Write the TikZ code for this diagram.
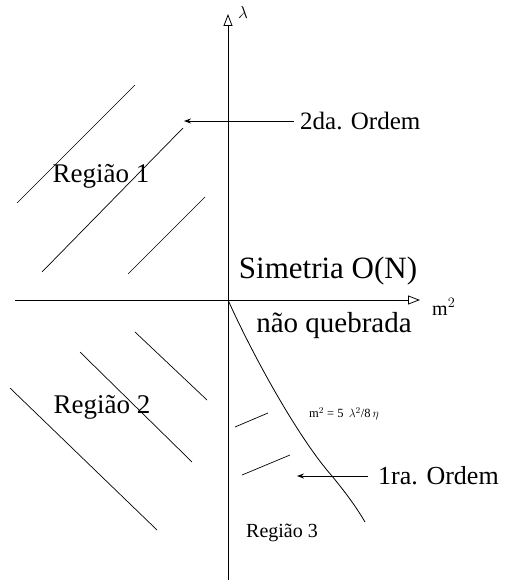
\documentclass[tikz,border=0pt]{standalone}
\usepackage{fontspec}
\setmainfont{Liberation Serif}
\usetikzlibrary{arrows.meta}
\tikzset{
    axis/.style={line width=0.8pt, -{Triangle[open, length=12pt, width=9pt]}},
    hatch/.style={line width=0.7pt},
    pointer/.style={line width=0.8pt, -{Stealth[length=7pt, width=5pt]}},
    label/.style={font=\fontsize{25}{29}\selectfont, inner sep=0pt},
    regionlabel/.style={font=\fontsize{27}{31}\selectfont, inner sep=0pt}
}
\begin{document}
\begin{tikzpicture}[x=1pt, y=-1pt]
    \useasboundingbox (0,0) rectangle (513,580);
    % Axes
    \coordinate (O) at (228,300);
    \coordinate (ybot) at (228,580);
    \coordinate (ytop) at (228,14);
    \coordinate (xleft) at (15,300);
    \coordinate (xright) at (420,300);
    \draw[axis] (ybot) -- (ytop);
    \draw[axis] (xleft) -- (xright);
    \node[label, font=\fontsize{16}{18}\selectfont] (lam) at (243,13) {$\lambda$};
    \node[label, font=\fontsize{20}{22}\selectfont, anchor=west] (msq) at (432,307) {m$^{2}$};

    % Region 1 (hatch /)
    \draw[hatch] (135,85) -- (17,203);
    \draw[hatch] (183,128) -- (42,272);
    \draw[hatch] (205,197) -- (128,274);
    \node[regionlabel] (reg1) at (101,176) {Região 1};

    % Region 2 (hatch \)
    \draw[hatch] (135,332) -- (207,400);
    \draw[hatch] (80,352) -- (192,462);
    \draw[hatch] (10,388) -- (157,530);
    \node[regionlabel] (reg2) at (102,407) {Região 2};

    % Region 3
    \draw[hatch] (235,427) -- (268,413);
    \draw[hatch] (242,475) -- (290,455);
    \node[label, font=\fontsize{20}{24}\selectfont] (reg3) at (282,533) {Região 3};

    % Transition line
    \draw[line width=0.8pt] (O) .. controls (255,360) and (300,440) .. (332,476)
        .. controls (345,492) and (355,505) .. (365,522);
    \node[label, font=\fontsize{12.5}{14}\selectfont, anchor=west] (eq) at (309,414)
        {m$^{2}$ = 5\,\ $\lambda^{2}$/8\,$\eta$};

    % Phase labels
    \node[label, font=\fontsize{31}{35}\selectfont] (sym) at (328,271) {Simetria O(N)};
    \node[label, font=\fontsize{29}{34}\selectfont] (nq) at (334,326) {não quebrada};

    % Order labels
    \node[label, anchor=west] (ord2) at (300,121) {2da. Ordem};
    \draw[pointer] (ord2.west) ++(-6,0) coordinate (p2) -- (184,121);
    \node[label, font=\fontsize{26}{30}\selectfont, anchor=west] (ord1) at (378,476) {1ra. Ordem};
    \draw[pointer] (ord1.west) ++(-10,0) coordinate (p1) -- (297,476);
\end{tikzpicture}
\end{document}
